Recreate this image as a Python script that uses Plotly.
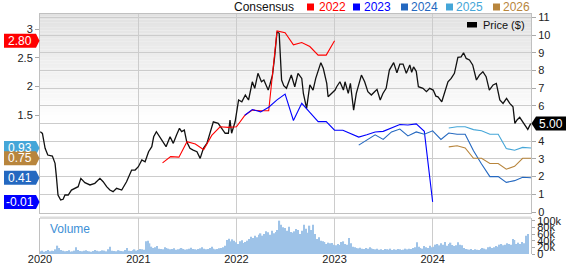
import plotly.graph_objects as go
import pandas as pd

# ---------------- data ----------------
price_dates = [
    "2020-01-02","2020-01-10","2020-01-20","2020-01-30","2020-02-16","2020-02-26","2020-03-02","2020-03-08",
    "2020-03-18","2020-03-27","2020-04-03","2020-04-15","2020-04-27","2020-05-10","2020-05-22","2020-06-01",
    "2020-06-16","2020-07-05","2020-07-23","2020-08-11","2020-08-23","2020-09-05","2020-09-17","2020-09-29",
    "2020-10-12","2020-10-31","2020-11-18","2020-12-07","2020-12-20",
    "2021-01-01","2021-01-14","2021-01-26","2021-02-08","2021-02-20","2021-02-27","2021-03-09","2021-03-22",
    "2021-04-04","2021-04-14","2021-04-29","2021-05-11","2021-05-23","2021-06-03","2021-06-11","2021-06-21",
    "2021-06-30","2021-07-12","2021-07-24","2021-08-07","2021-08-19","2021-08-31","2021-09-13","2021-09-25",
    "2021-10-07","2021-10-25","2021-11-08","2021-11-20","2021-12-02","2021-12-08","2021-12-14","2021-12-27",
    "2022-01-09","2022-01-21","2022-02-03","2022-02-15","2022-03-01","2022-03-10","2022-03-22","2022-04-04",
    "2022-04-13","2022-04-29","2022-05-05","2022-05-15","2022-05-23","2022-06-01","2022-06-09","2022-06-18",
    "2022-06-26","2022-07-06","2022-07-24","2022-08-06","2022-08-18","2022-09-01","2022-09-07","2022-09-19",
    "2022-10-01","2022-10-13","2022-10-23","2022-11-11","2022-11-20","2022-12-03","2022-12-08","2022-12-21",
    "2023-01-03","2023-01-09","2023-01-21","2023-02-03","2023-02-09","2023-02-21","2023-03-01","2023-03-13",
    "2023-03-23","2023-04-11","2023-04-23","2023-05-05","2023-05-18","2023-05-30","2023-06-08","2023-06-20",
    "2023-06-30","2023-07-12","2023-07-24","2023-08-09","2023-08-21","2023-09-01","2023-09-13","2023-09-25",
    "2023-10-08","2023-10-15","2023-10-22","2023-11-01","2023-11-09","2023-11-26","2023-12-09","2023-12-21",
    "2024-01-03","2024-01-13","2024-01-21","2024-02-04","2024-02-15","2024-02-27","2024-03-10","2024-03-22",
    "2024-04-04","2024-04-16","2024-04-25","2024-05-05","2024-05-17","2024-05-29","2024-06-12","2024-06-23",
    "2024-07-06","2024-07-18","2024-07-30","2024-08-13","2024-08-25","2024-09-07","2024-09-19","2024-10-02",
    "2024-10-14","2024-10-26","2024-11-02","2024-11-10","2024-11-20","2024-12-02","2024-12-20","2024-12-31",
]
price_values = [
    4.54,4.44,3.60,3.22,3.16,2.75,2.00,0.96,
    0.68,0.72,0.96,0.96,1.24,1.34,1.43,1.90,
    1.66,1.53,1.62,1.90,1.71,1.43,1.24,1.15,
    1.34,1.24,1.71,2.37,2.37,
    2.56,2.94,2.84,3.41,3.69,4.25,4.54,4.25,
    3.97,3.69,4.25,3.88,4.35,4.73,4.54,4.63,
    3.97,3.60,3.50,3.41,3.03,3.60,3.88,4.45,
    5.10,5.01,4.73,4.45,4.45,5.20,4.45,5.10,
    6.33,6.23,6.61,6.33,7.36,6.99,7.84,7.36,
    7.46,6.89,7.18,7.74,8.77,10.19,10.10,7.46,
    7.14,6.99,7.74,7.08,7.84,7.55,6.70,5.86,
    7.18,6.89,7.55,8.44,8.12,7.27,6.51,6.70,
    6.89,7.08,7.36,6.89,7.36,6.70,7.27,5.76,
    6.70,7.74,7.36,6.80,6.61,6.80,6.93,6.33,
    6.70,6.99,8.02,8.44,7.87,8.36,8.36,7.84,
    8.31,7.90,8.20,7.95,7.08,6.99,6.80,6.99,
    6.89,6.55,6.51,6.23,6.80,7.36,7.55,7.84,
    8.74,8.77,9.00,8.68,8.59,8.31,7.46,7.74,
    7.93,7.65,6.89,7.18,7.27,6.33,6.14,6.42,
    6.14,5.95,5.01,5.20,5.35,5.10,4.67,5.00,
]

# monthly consensus EPS estimates (first value's month given)
cons_2022_start = "2021-04-01"
cons_2022 = [0.67,0.78,0.77,1.04,1.00,0.90,1.15,1.30,1.29,1.30,1.50,1.59,1.58,1.58,2.97,2.94,2.73,2.77,2.70,2.55,2.55,2.80]
cons_2023_start = "2022-02-01"
cons_2023 = [1.50,1.60,1.56,1.64,1.77,1.87,1.41,1.71,1.55,1.39,1.39,
             1.24,1.24,1.18,1.12,1.16,1.21,1.22,1.28,1.34,1.33,1.35,1.22,-0.01]
cons_2024_start = "2023-04-01"
cons_2024 = [0.98,1.07,1.16,1.08,1.21,1.26,1.14,1.21,1.17,
             1.23,1.08,1.19,1.17,1.17,0.88,0.65,0.43,0.43,0.33,0.36,0.42,0.41]
cons_2025_start = "2024-03-01"
cons_2025 = [1.28,1.30,1.30,1.25,1.23,1.17,1.17,0.92,0.89,0.94,0.93]
cons_2026_start = "2024-03-01"
cons_2026 = [0.95,0.97,0.93,0.75,0.75,0.66,0.66,0.56,0.61,0.75,0.75]

# weekly volume, thousands of shares
vol_start = "2020-01-03"
volume_k = [
    8,10,7,9,12,8,10,9,14,25,18,12,10,8,9,11,7,8,10,20,12,9,8,10,11,9,8,7,9,12,10,8,9,11,10,8,14,22,10,9,8,11,10,9,8,12,18,10,9,11,14,10,
    12,15,14,13,38,40,32,22,18,20,24,16,15,14,20,18,16,14,15,17,13,14,16,18,15,13,14,16,19,15,14,13,15,17,20,16,14,15,18,22,16,14,15,17,18,20,25,42,46,38,44,40,
    35,30,38,41,33,36,40,45,52,48,55,50,58,62,55,60,68,65,58,70,62,66,72,100,88,80,
    78,70,82,66,64,68,75,72,60,70,88,76,64,85,72,88,60,45,50,40,38,36,30,34,32,33,
    28,26,30,27,36,38,30,28,48,32,22,20,18,17,19,16,15,18,16,20,17,15,14,16,13,14,12,15,14,13,16,12,14,13,15,14,12,13,16,14,16,15,18,20,35,22,18,16,24,20,18,25,
    20,22,28,30,26,32,28,36,25,30,34,27,24,26,35,28,26,18,15,14,13,15,12,14,13,12,15,18,16,14,20,22,18,20,24,22,28,30,26,28,32,30,28,45,42,30,34,30,36,32,55,60,
]

year_ticks = ["2020-01-01","2021-01-01","2022-01-01","2023-01-01","2024-01-01"]
year_labels = ["2020","2021","2022","2023","2024"]
price_ticks = list(range(0, 12))
cons_ticks = [1.5, 2, 2.5, 3]
cons_tick_labels = ["1.5", "2", "2.5", "3"]
vol_ticks = [0, 20, 40, 60, 80, 100]
vol_tick_labels = ["0", "20k", "40k", "60k", "80k", "100k"]

series_names = ["2022", "2023", "2024", "2025", "2026"]
series_colors = ["#ff0000", "#0000ff", "#2468c0", "#45a6d8", "#b8853c"]
series_starts = [cons_2022_start, cons_2023_start, cons_2024_start, cons_2025_start, cons_2026_start]
series_values = [cons_2022, cons_2023, cons_2024, cons_2025, cons_2026]

# ---------------- layout helpers ----------------
W, H = 566, 264
L, R, T, B = 40, 35, 14, 10
PW, PH = W - L - R, H - T - B
FONT = "Liberation Sans, Arial, sans-serif"


def px(x):
    return (x - L) / PW


def py(y):
    return (H - B - y) / PH


main_dom = [py(213), 1.0]
vol_dom = [0.0, py(218)]

last_price = price_values[-1]
# the price-axis label under the last-price marker is covered by it
price_tick_text = ["" if abs(v - round(last_price)) < 1e-9 else str(v) for v in price_ticks]

fig = go.Figure()

# volume
vol_dates = pd.date_range(vol_start, periods=len(volume_k), freq="7D")
fig.add_trace(go.Bar(x=vol_dates, y=volume_k, xaxis="x2", yaxis="y3",
                     marker=dict(color="#9ec3e8", line=dict(width=0)),
                     showlegend=False, hoverinfo="skip"))

# price
fig.add_trace(go.Scatter(x=price_dates, y=price_values, mode="lines", xaxis="x", yaxis="y",
                         line=dict(color="#111111", width=1.3), showlegend=False))

# consensus lines
for name, col, start, vals in zip(series_names, series_colors, series_starts, series_values):
    d = pd.date_range(start, periods=len(vals), freq="MS")
    fig.add_trace(go.Scatter(x=d, y=vals, mode="lines", xaxis="x", yaxis="y2",
                             line=dict(color=col, width=1.1), showlegend=False, name=name))

shapes = []
annotations = []

# gradient background of the main panel
n = 40
for i in range(n):
    frac_top = 1.0 - i * (0.55 / n)
    frac_bot = 1.0 - (i + 1) * (0.55 / n)
    g = int(round(226 + (255 - 226) * (i / (n - 1))))
    shapes.append(dict(type="rect", xref="paper", yref="y domain", x0=0, x1=1, y0=frac_bot, y1=frac_top,
                       fillcolor=f"rgb({g},{g},{g})", line=dict(width=0), layer="below"))

# separator band between panels
shapes.append(dict(type="rect", xref="paper", yref="paper", x0=0, x1=1, y0=py(219), y1=py(216.5),
                   fillcolor="#dcdcdc", line=dict(width=0), layer="below"))

# left value labels (last consensus value of each year)
label_order = [0, 3, 4, 2, 1]
for idx in label_order:
    v = series_values[idx][-1]
    col = series_colors[idx]
    shapes.append(dict(type="path", xref="paper", xsizemode="pixel", xanchor=0,
                       yref="y2", ysizemode="pixel", yanchor=v,
                       path="M -36,7 L -4,7 L -0.5,0 L -4,-7 L -36,-7 Z",
                       fillcolor=col, line=dict(width=0), layer="above"))
    annotations.append(dict(xref="paper", x=0, xshift=-20, xanchor="center",
                            yref="y2", y=v, yanchor="middle", text=f"{v:.2f}", showarrow=False,
                            font=dict(family=FONT, size=12, color="white")))

# right price label
shapes.append(dict(type="path", xref="paper", xsizemode="pixel", xanchor=1,
                   yref="y", ysizemode="pixel", yanchor=last_price,
                   path="M 0.5,0 L 5,7 L 36,7 L 36,-7 L 5,-7 Z",
                   fillcolor="#000000", line=dict(width=0), layer="above"))
annotations.append(dict(xref="paper", x=1, xshift=20, xanchor="center", yref="y", y=last_price,
                        yanchor="middle", text=f"{last_price:.2f}", showarrow=False,
                        font=dict(family=FONT, size=12, color="white")))

# top legend
annotations.append(dict(xref="paper", yref="paper", x=px(296), y=py(7), xanchor="right", yanchor="middle",
                        text="Consensus", showarrow=False, font=dict(family=FONT, size=12, color="#111")))
sq_x = [307, 353, 401, 446, 493]
tx_x = [317, 362, 409, 454, 501]
for name, col, sx, tx in zip(series_names, series_colors, sq_x, tx_x):
    shapes.append(dict(type="rect", xref="paper", yref="paper", x0=px(sx), x1=px(sx + 7),
                       y0=py(10.5), y1=py(3.5), fillcolor=col, line=dict(width=0)))
    annotations.append(dict(xref="paper", yref="paper", x=px(tx), y=py(7), xanchor="left", yanchor="middle",
                            text=name, showarrow=False, font=dict(family=FONT, size=12, color=col)))

# price legend inside the plot
shapes.append(dict(type="rect", xref="paper", yref="paper", x0=px(467), x1=px(477), y0=py(27.5), y1=py(22),
                   fillcolor="#000000", line=dict(width=0)))
annotations.append(dict(xref="paper", yref="paper", x=px(481), y=py(25), xanchor="left", yanchor="middle",
                        text="Price ($)", showarrow=False, font=dict(family=FONT, size=11, color="#111")))

# volume label
annotations.append(dict(xref="paper", yref="paper", x=px(48), y=py(229), xanchor="left", yanchor="middle",
                        text="Volume", showarrow=False, font=dict(family=FONT, size=12, color="#3d8fd6")))

grid = "#cccccc"
axline = "#c0c0c0"
tickfont = dict(family=FONT, size=11, color="#222")
xr = ["2020-01-01", "2025-01-01"]

fig.update_layout(
    width=W, height=H, margin=dict(l=L, r=R, t=T, b=B, autoexpand=False),
    paper_bgcolor="white", plot_bgcolor="white",
    bargap=0.3, showlegend=False,
    font=dict(family=FONT, size=11, color="#222"),
    xaxis=dict(type="date", range=xr, domain=[0, 1], anchor="y", tickvals=year_ticks,
               showticklabels=False, showgrid=True, gridcolor=grid, gridwidth=1, ticks="",
               showline=True, linecolor=axline, linewidth=1, mirror=True, zeroline=False, automargin=False),
    xaxis2=dict(type="date", range=xr, domain=[0, 1], anchor="y3", matches="x", tickvals=year_ticks,
                ticktext=year_labels, showgrid=True, gridcolor=grid, gridwidth=1, ticks="",
                ticklabelstandoff=-3,
                tickfont=tickfont, showline=False, zeroline=False, automargin=False),
    yaxis=dict(domain=main_dom, anchor="x", side="right", range=[-0.056, 11.19], tickvals=price_ticks,
               ticktext=price_tick_text,
               showgrid=True, gridcolor=grid, gridwidth=1, ticks="outside", ticklen=4, tickcolor="#aaa",
               showline=True, linecolor=axline, zeroline=False, tickfont=tickfont, automargin=False),
    yaxis2=dict(overlaying="y", anchor="x", side="left", range=[-0.204, 3.267], tickvals=cons_ticks,
                ticktext=cons_tick_labels, showgrid=False, ticks="outside", ticklen=4, tickcolor="#aaa",
                showline=True, linecolor=axline, zeroline=False, tickfont=tickfont, automargin=False),
    yaxis3=dict(domain=vol_dom, anchor="x2", side="right", range=[0, 108], tickvals=vol_ticks,
                ticktext=vol_tick_labels, showgrid=False, ticks="outside", ticklen=3, tickcolor="#aaa",
                showline=True, mirror=True, linecolor=axline, zeroline=False,
                tickfont=dict(family=FONT, size=11, color="#222"), automargin=False),
    shapes=shapes, annotations=annotations,
)

fig.write_html("out.html")
